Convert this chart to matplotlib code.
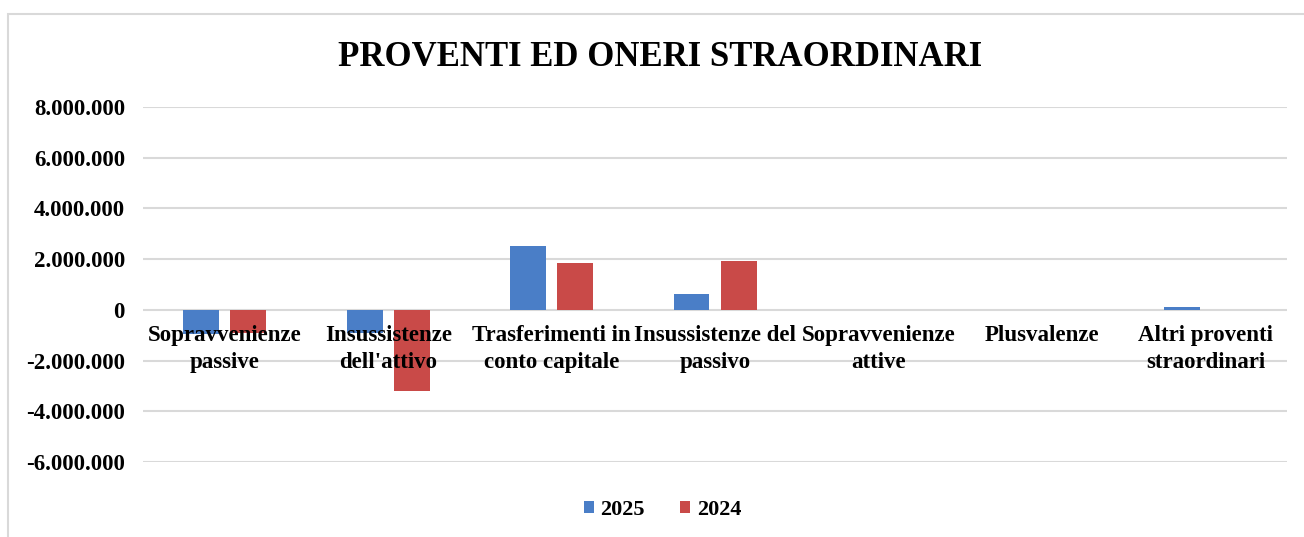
import numpy as np
import matplotlib
matplotlib.use('Agg')
import matplotlib.pyplot as plt
from matplotlib.ticker import FuncFormatter, MultipleLocator
from matplotlib.patches import Rectangle

categories = ['Sopravvenienze\npassive', "Insussistenze\ndell'attivo",
              'Trasferimenti in\nconto capitale', 'Insussistenze del\npassivo',
              'Sopravvenienze\nattive', 'Plusvalenze', 'Altri proventi\nstraordinari']
values_2025 = [-950000, -900000, 2500000, 640000, 0, 0, 100000]
values_2024 = [-900000, -3200000, 1840000, 1940000, 0, 0, 0]
series_labels = ['2025', '2024']

plt.rcParams['font.family'] = ['Liberation Serif', 'DejaVu Serif']
plt.rcParams['font.weight'] = 'bold'

fig = plt.figure(figsize=(13.04, 5.37), dpi=100)
ax = fig.add_axes([0.1097, 0.1397, 0.8773, 0.661])

# chart frame like the spreadsheet export
fig.patches.append(Rectangle((8 / 1304, -0.01), 1.0, 1 - 14 / 537 + 0.01,
                             transform=fig.transFigure, fill=False,
                             edgecolor='#D9D9D9', linewidth=1.5))

x = np.arange(len(categories))
width = 0.22
offset = 0.144
ax.bar(x - offset, values_2025, width, color='#4A7EC7', label=series_labels[0])
ax.bar(x + offset, values_2024, width, color='#C94A48', label=series_labels[1])

ax.set_xlim(-0.5, len(categories) - 0.5)
ax.set_ylim(-6000000, 8000000)
ax.yaxis.set_major_locator(MultipleLocator(2000000))
ax.yaxis.set_major_formatter(FuncFormatter(lambda v, p: f'{int(v):,}'.replace(',', '.')))
ax.grid(axis='y', color='#D9D9D9', linewidth=1.5)
ax.set_axisbelow(True)
# category labels sit on top of bars and gridlines, as in the spreadsheet
ax.xaxis.set_zorder(3)

for s in ['top', 'right', 'left']:
    ax.spines[s].set_visible(False)
ax.spines['bottom'].set_position(('data', 0))
ax.spines['bottom'].set_visible(False)

ax.set_xticks(x)
ax.set_xticklabels(categories, fontsize=16.5, fontweight='bold', linespacing=1.35)
ax.tick_params(axis='x', length=0, pad=11)
ax.tick_params(axis='y', length=0, pad=13, labelsize=16.5)
for t in ax.get_yticklabels():
    t.set_fontweight('bold')

fig.text(0.506, 0.893, 'PROVENTI ED ONERI STRAORDINARI', ha='center', va='center',
         fontsize=25, fontweight='bold')

fig.legend(loc='center', bbox_to_anchor=(0.508, 0.05), ncol=2, frameon=False,
           prop={'size': 16, 'weight': 'bold'}, handlelength=0.45, handleheight=0.45,
           handletextpad=0.3, columnspacing=1.6)

plt.savefig('out.png', dpi=100)
